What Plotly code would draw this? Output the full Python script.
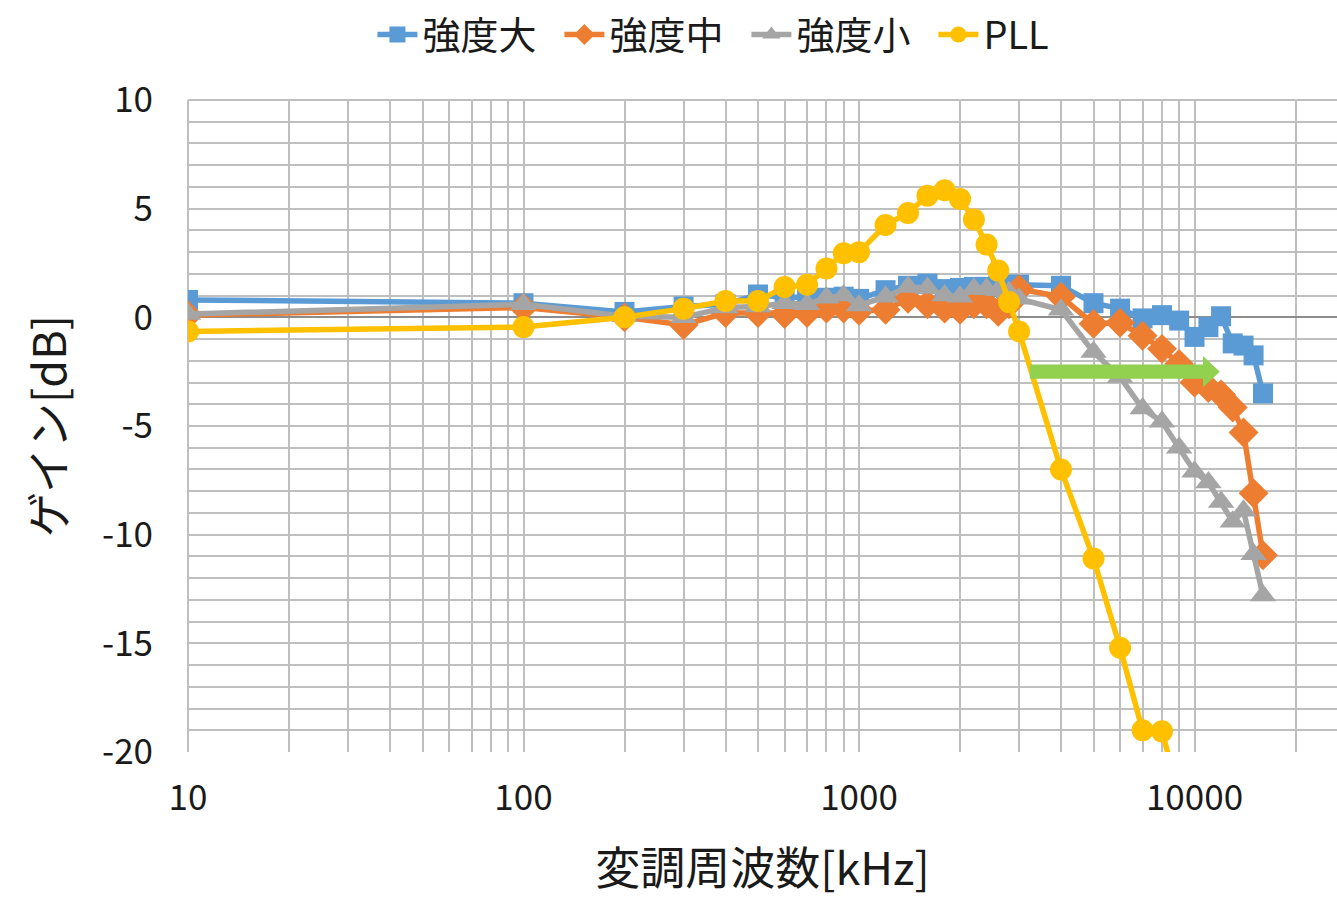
import plotly.graph_objects as go

# Modulation frequency [kHz]
freq = [10, 100, 200, 300, 400, 500, 600, 700, 800, 900, 1000,
        1200, 1400, 1600, 1800, 2000, 2200, 2400, 2600, 2800, 3000,
        4000, 5000, 6000, 7000, 8000, 9000, 10000, 11000, 12000, 13000,
        14000, 15000, 16000]

# Gain [dB] per modulation strength
gain_high = [0.8, 0.65, 0.25, 0.5, 0.6, 1.05, 0.9, 0.95, 0.9, 0.95, 0.85,
             1.25, 1.45, 1.55, 1.3, 1.35, 1.4, 1.4, 1.45, 1.5, 1.5,
             1.45, 0.65, 0.4, -0.05, 0.1, -0.15, -0.9, -0.45, 0.05, -1.2,
             -1.3, -1.75, -3.5]
gain_mid = [0.1, 0.45, 0.0, -0.35, 0.2, 0.2, 0.15, 0.2, 0.4, 0.4, 0.3,
            0.35, 0.85, 0.6, 0.4, 0.35, 0.6, 0.6, 0.25, 0.6, 1.3,
            0.95, -0.3, -0.25, -0.85, -1.45, -2.15, -3.0, -3.25, -3.55, -4.15,
            -5.3, -8.1, -10.95]
gain_low = [0.15, 0.6, 0.05, 0.0, 0.45, 0.5, 0.65, 0.6, 0.9, 1.0, 0.55,
            0.95, 1.4, 1.35, 1.0, 0.95, 1.3, 1.3, 1.25, 1.15, 0.85,
            0.35, -1.6, -2.75, -4.2, -4.8, -6.0, -7.1, -7.6, -8.5, -9.4,
            -8.9, -10.9, -12.8]

# PLL reference
freq_pll = [10, 100, 200, 300, 400, 500, 600, 700, 800, 900, 1000,
            1200, 1400, 1600, 1800, 2000, 2200, 2400, 2600, 2800, 3000,
            4000, 5000, 6000, 7000, 8000, 9000]
gain_pll = [-0.65, -0.45, 0.0, 0.4, 0.75, 0.75, 1.4, 1.5, 2.25, 2.95, 3.0,
            4.25, 4.8, 5.6, 5.85, 5.45, 4.5, 3.35, 2.15, 0.7, -0.65,
            -7.0, -11.1, -15.2, -19.0, -19.05, -22.0]

series_names = ["強度大", "強度中", "強度小", "PLL"]
x_tick_vals = [10, 100, 1000, 10000]
x_tick_text = ["10", "100", "1000", "10000"]
y_tick_vals = [10, 5, 0, -5, -10, -15, -20]
y_tick_text = ["10", "5", "0", "-5", "-10", "-15", "-20"]

# Bandwidth-improvement arrow (from / to frequency, level in dB)
arrow_from, arrow_head, arrow_to, arrow_level = 3230, 10600, 11900, -2.5

FONT = "Noto Sans CJK JP"
GRID = "#BFBFBF"
TEXT = "#1a1a1a"

fig = go.Figure()

styles = [
    (freq, gain_high, "#5B9BD5", "square", 20),
    (freq, gain_mid, "#ED7D31", "diamond", 23),
    (freq, gain_low, "#A5A5A5", "triangle-up", 23),
    (freq_pll, gain_pll, "#FFC000", "circle", 22),
]
for name, (xs, ys, color, symbol, size) in zip(series_names, styles):
    fig.add_trace(go.Scatter(
        x=xs, y=ys, name=name, mode="lines+markers",
        line=dict(color=color, width=5.5),
        marker=dict(color=color, symbol=symbol, size=size, line=dict(width=0)),
        cliponaxis=True,
    ))

# minor gridlines: 2..9 of each decade, every 1 dB
minor_x = [m * 10 ** d for d in range(1, 5) for m in range(2, 10)]
minor_y = list(range(-20, 11))

fig.update_xaxes(
    type="log",
    range=[1, 4.4247],
    tickmode="array", tickvals=x_tick_vals, ticktext=x_tick_text,
    showgrid=True, gridcolor=GRID, gridwidth=2,
    minor=dict(tickmode="array", tickvals=minor_x, showgrid=True,
               gridcolor=GRID, gridwidth=2),
    zeroline=False, showline=False, ticks="",
    tickfont=dict(family=FONT, size=35, color=TEXT),
    ticklabelstandoff=22,
    title=dict(text="変調周波数[kHz]", font=dict(family=FONT, size=45, color=TEXT),
               standoff=34),
)
fig.update_yaxes(
    range=[-20, 10],
    tickmode="array", tickvals=y_tick_vals, ticktext=y_tick_text,
    showgrid=True, gridcolor=GRID, gridwidth=2,
    minor=dict(tickmode="array", tickvals=minor_y, showgrid=True,
               gridcolor=GRID, gridwidth=2),
    zeroline=True, zerolinecolor="#8C8C8C", zerolinewidth=2,
    showline=False, ticks="",
    tickfont=dict(family=FONT, size=35, color=TEXT),
    ticklabelstandoff=34,
    title=dict(text="ゲイン[dB]", font=dict(family=FONT, size=45, color=TEXT),
               standoff=21),
)

# top and left border of the plotting area
fig.add_shape(type="line", xref="paper", yref="paper", x0=0, x1=1, y0=1, y1=1,
              line=dict(color=GRID, width=2), layer="below")
fig.add_shape(type="line", xref="paper", yref="paper", x0=0, x1=0, y0=0, y1=1,
              line=dict(color=GRID, width=2), layer="below")

# green arrow drawn as a filled path in data coordinates
half_shaft, half_head = 0.33, 0.72
path = (f"M {arrow_from},{arrow_level + half_shaft} "
        f"L {arrow_head},{arrow_level + half_shaft} "
        f"L {arrow_head},{arrow_level + half_head} "
        f"L {arrow_to},{arrow_level} "
        f"L {arrow_head},{arrow_level - half_head} "
        f"L {arrow_head},{arrow_level - half_shaft} "
        f"L {arrow_from},{arrow_level - half_shaft} Z")
fig.add_shape(type="path", path=path, xref="x", yref="y",
              fillcolor="#92D050", line=dict(width=0), layer="above")

fig.update_layout(
    width=1337, height=900,
    margin=dict(l=188, r=0, t=100, b=148),
    paper_bgcolor="white", plot_bgcolor="white",
    font=dict(family=FONT, color=TEXT),
    legend=dict(orientation="h", x=0.486, xanchor="center",
                y=1.1, yanchor="middle",
                font=dict(family=FONT, size=38, color=TEXT),
                itemwidth=40, entrywidth=132, tracegroupgap=0,
                bgcolor="rgba(0,0,0,0)"),
    showlegend=True,
)

fig.write_html("out.html")
